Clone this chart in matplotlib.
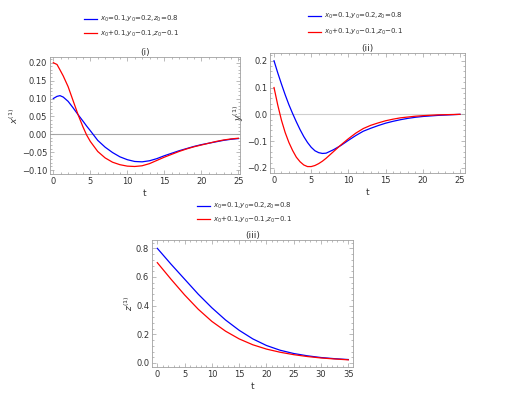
import matplotlib
matplotlib.use("Agg")
import matplotlib.pyplot as plt
from matplotlib.ticker import MultipleLocator, AutoMinorLocator, FuncFormatter

# ---- data ----
t1 = [0, 0.5, 0.9, 1.34, 2, 2.67, 3.34, 4, 4.5, 5, 6, 7, 8, 9, 10, 11, 12, 13, 14,
      15, 16, 17, 18, 19, 20, 21, 22, 23, 24, 25]
x_blue = [0.100, 0.106, 0.108, 0.104, 0.092, 0.074, 0.055, 0.037, 0.023, 0.010,
          -0.017, -0.036, -0.051, -0.063, -0.071, -0.076, -0.077, -0.074, -0.068,
          -0.060, -0.053, -0.046, -0.040, -0.034, -0.029, -0.025, -0.021, -0.017,
          -0.014, -0.012]
x_red = [0.200, 0.195, 0.180, 0.163, 0.133, 0.094, 0.055, 0.021, -0.002, -0.020,
         -0.048, -0.066, -0.078, -0.085, -0.089, -0.090, -0.088, -0.082, -0.073,
         -0.064, -0.056, -0.048, -0.041, -0.035, -0.030, -0.025, -0.020, -0.016,
         -0.013, -0.011]

t2 = [0, 0.5, 1, 1.5, 2, 2.5, 3, 3.5, 4, 4.5, 5, 5.5, 6, 6.5, 7, 8, 9, 10, 11, 12,
      13, 14, 15, 16, 17, 18, 19, 20, 22, 25]
y_blue = [0.200, 0.155, 0.113, 0.073, 0.036, 0.003, -0.028, -0.057, -0.083, -0.105,
          -0.123, -0.136, -0.143, -0.146, -0.145, -0.132, -0.116, -0.097, -0.079,
          -0.063, -0.052, -0.042, -0.033, -0.026, -0.020, -0.015, -0.011, -0.008,
          -0.004, 0.000]
y_red = [0.100, 0.035, -0.022, -0.068, -0.105, -0.135, -0.160, -0.177, -0.189, -0.195,
         -0.195, -0.191, -0.184, -0.175, -0.164, -0.139, -0.114, -0.091, -0.070,
         -0.053, -0.041, -0.032, -0.024, -0.018, -0.013, -0.010, -0.007, -0.005,
         -0.002, 0.000]

t3 = [0, 2.5, 5, 7.5, 10, 12.5, 15, 17.5, 20, 22.5, 25, 27.5, 30, 32.5, 35]
z_blue = [0.80, 0.69, 0.585, 0.48, 0.385, 0.30, 0.228, 0.168, 0.122, 0.089, 0.066,
          0.050, 0.038, 0.030, 0.024]
z_red = [0.70, 0.585, 0.475, 0.375, 0.29, 0.222, 0.168, 0.127, 0.097, 0.075, 0.058,
         0.045, 0.035, 0.028, 0.022]

labels = ["$x_0$=0.1,$y_0$=0.2,$z_0$=0.8", "$x_0$+0.1,$y_0$\u22120.1,$z_0$\u22120.1"]
titles = ["(i)", "(ii)", "(iii)"]
ylabels = ["$x^{(1)}$", "$y^{(1)}$", "$z^{(1)}$"]

plt.rcParams['font.family'] = ['DejaVu Sans']
plt.rcParams['mathtext.fontset'] = 'dejavusans'

W, H = 521, 394
fig = plt.figure(figsize=(W / 100, H / 100), dpi=100)


def box(x0, y0, x1, y1):
    return [x0 / W, 1 - y1 / H, (x1 - x0) / W, (y1 - y0) / H]


FRAME = '#a0a0a0'
TXT = '#333333'


def style(ax, xmaj, ymaj, title, ylabel, xlim, ylim, zero_color=None):
    ax.set_xlim(*xlim)
    ax.set_ylim(*ylim)
    for s in ax.spines.values():
        s.set_color(FRAME)
        s.set_linewidth(0.6)
    ax.xaxis.set_major_locator(MultipleLocator(xmaj))
    ax.yaxis.set_major_locator(MultipleLocator(ymaj))
    ax.xaxis.set_minor_locator(AutoMinorLocator(5))
    ax.yaxis.set_minor_locator(AutoMinorLocator(5))
    ax.tick_params(which='both', direction='in', top=True, right=True,
                   color=FRAME, width=0.5, labelsize=6, labelcolor=TXT, pad=2)
    ax.tick_params(which='major', length=3)
    ax.tick_params(which='minor', length=1.5)
    ax.set_title(title, fontsize=6.5, color=TXT, pad=1.5)
    ax.set_xlabel('t', fontsize=6.5, color=TXT, labelpad=2)
    ax.set_ylabel(ylabel, fontsize=6.5, color=TXT, labelpad=1)
    if zero_color:
        ax.axhline(0, color=zero_color, lw=0.8, zorder=0)


def legend(ax, x, y, spacing=0.65):
    ax.legend(loc='upper left', bbox_to_anchor=(x / W, 1 - y / H),
              bbox_transform=fig.transFigure, frameon=False, fontsize=5,
              handlelength=1.85, handletextpad=0.45, labelspacing=spacing,
              borderaxespad=0, borderpad=0, labelcolor=TXT)


def minus(fmt):
    return FuncFormatter(lambda v, p: format(v, fmt).replace('-', '\u2212'))


# (i)
ax1 = fig.add_axes(box(50, 57, 240, 174))
ax1.plot(t1, x_blue, color='#0000ff', lw=0.9, label=labels[0])
ax1.plot(t1, x_red, color='#ff0000', lw=0.9, label=labels[1])
style(ax1, 5, 0.05, titles[0], ylabels[0], (-0.45, 25.23), (-0.111, 0.216), '#a8a8a8')
ax1.yaxis.set_major_formatter(minus('.2f'))
legend(ax1, 84, 14)

# (ii)
ax2 = fig.add_axes(box(270, 53, 465, 173))
ax2.plot(t2, y_blue, color='#0000ff', lw=0.9, label=labels[0])
ax2.plot(t2, y_red, color='#ff0000', lw=0.9, label=labels[1])
style(ax2, 5, 0.1, titles[1], ylabels[1], (-0.54, 25.67), (-0.219, 0.229), '#cfcfcf')
ax2.yaxis.set_major_formatter(minus('.1f'))
legend(ax2, 308, 11, spacing=0.85)

# (iii)
ax3 = fig.add_axes(box(152, 240, 353, 367))
ax3.plot(t3, z_blue, color='#0000ff', lw=0.9, label=labels[0])
ax3.plot(t3, z_red, color='#ff0000', lw=0.9, label=labels[1])
style(ax3, 5, 0.2, titles[2], ylabels[2], (-0.97, 35.85), (-0.028, 0.858))
ax3.yaxis.set_major_formatter(minus('.1f'))
legend(ax3, 197, 201, spacing=0.5)

fig.savefig('out.png', dpi=100)
